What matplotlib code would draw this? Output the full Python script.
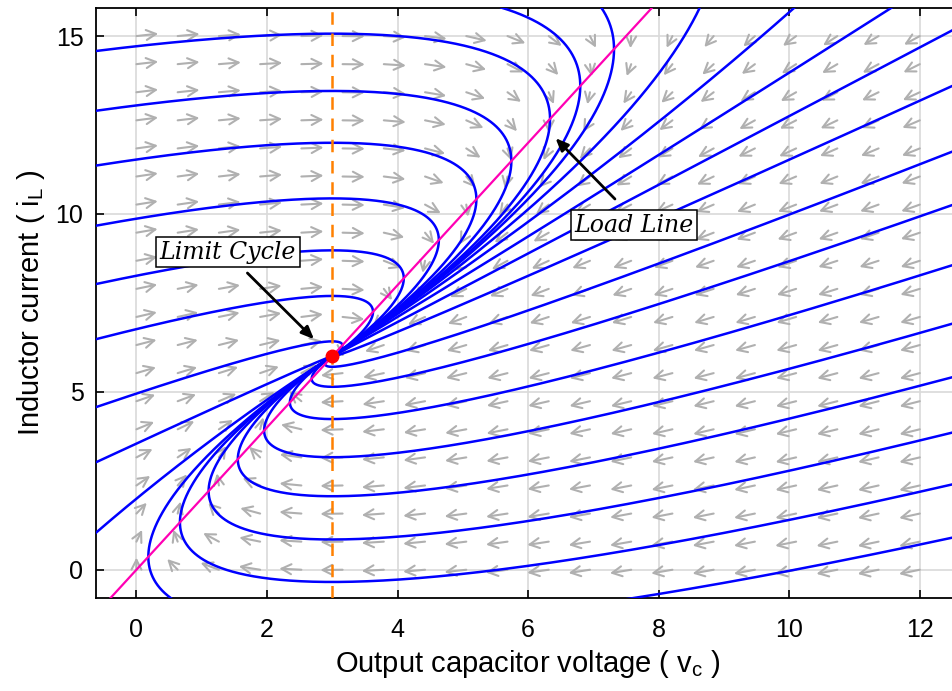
import numpy as np
import matplotlib
matplotlib.use('Agg')
import matplotlib.pyplot as plt

plt.rcParams.update({
    'font.family': ['Liberation Sans', 'DejaVu Sans'],
    'font.size': 17,
    'mathtext.fontset': 'custom',
    'mathtext.rm': 'Liberation Sans',
    'mathtext.it': 'Liberation Sans',
})

# Converter model: C dv/dt = i - v/R ,  L di/dt = Vin - v
V_IN = 3.0
R_LOAD = 0.5
L_IND = 1.0
C_OUT = 1.0

# Start points of the drawn trajectories (read where they enter the axes)
left_v0 = -0.62
left_i0 = [14.58, 12.9, 11.36, 9.67, 8.03, 6.48, 4.57, 3.02, 1.04]
right_v0 = 12.62
right_i0 = [15.28, 13.7, 11.84, 10.33, 8.63, 6.98, 5.47, 3.91, 2.45, 0.95]
top_i0 = 15.8
top_v0 = [5.59, 7.12, 8.63, 10.08, 11.57]
bottom_i0 = -0.8
bottom_v0 = [0.53]

# Direction-field sample grid
grid_v = np.linspace(0, 12, 20)
grid_i = np.linspace(0, 15, 20)

xticks = [0, 2, 4, 6, 8, 10, 12]
yticks = [0, 5, 10, 15]


def field(v, i):
    return (i - v / R_LOAD) / C_OUT, (V_IN - v) / L_IND


def trajectory(v, i, dt=0.002, n_max=15000):
    v_eq, i_eq = V_IN, V_IN / R_LOAD
    vs, iis = [v], [i]
    for _ in range(n_max):
        a1, b1 = field(v, i)
        a2, b2 = field(v + dt / 2 * a1, i + dt / 2 * b1)
        a3, b3 = field(v + dt / 2 * a2, i + dt / 2 * b2)
        a4, b4 = field(v + dt * a3, i + dt * b3)
        v += dt / 6 * (a1 + 2 * a2 + 2 * a3 + a4)
        i += dt / 6 * (b1 + 2 * b2 + 2 * b3 + b4)
        vs.append(v)
        iis.append(i)
        if abs(v - v_eq) < 0.005 and abs(i - i_eq) < 0.01:
            break
        if v < -0.8 or v > 13.0 or i < -1.0 or i > 16.2:
            break
    return vs, iis


starts = ([(left_v0, y) for y in left_i0] + [(right_v0, y) for y in right_i0]
          + [(x, top_i0) for x in top_v0] + [(x, bottom_i0) for x in bottom_v0])

fig = plt.figure(figsize=(9.52, 6.91), dpi=100)
ax = fig.add_axes([0.1008, 0.1343, 0.9079, 0.8547])

# direction field (unit arrows in data units)
VV, II = np.meshgrid(grid_v, grid_i)
DV, DI = field(VV, II)
norm = np.hypot(DV, DI)
arrow_len = 0.34
for x, y, du, dw, n in zip(VV.ravel(), II.ravel(), DV.ravel(), DI.ravel(), norm.ravel()):
    ax.annotate('', xy=(x + arrow_len * du / n, y + arrow_len * dw / n), xytext=(x, y),
                arrowprops=dict(arrowstyle='->,head_length=0.7,head_width=0.36',
                                color='#b0b0b0', lw=1.5, shrinkA=0, shrinkB=0,
                                mutation_scale=10), zorder=2)

# trajectories
for v0, i0 in starts:
    vs, iis = trajectory(v0, i0)
    ax.plot(vs, iis, color='#0000ff', lw=1.8, zorder=3)

# load line i = v / R
load_v = np.array([-1.0, 9.0])
ax.plot(load_v, load_v / R_LOAD, color='#ff00b4', lw=1.6, zorder=4)

# Vin line and operating point
ax.axvline(V_IN, color='#ff8000', lw=1.8, ls=(0, (5, 3.5)), zorder=4)
ax.plot([V_IN], [V_IN / R_LOAD], 'o', color='#ff0000', ms=9, zorder=6)

# annotations
txt_kw = dict(ha='center', va='center', fontsize=17, fontstyle='italic',
              family='DejaVu Serif', zorder=7,
              bbox=dict(boxstyle='square,pad=0.15', fc='white', ec='black', lw=1.1))
arr_kw = dict(arrowstyle='-|>,head_length=0.75,head_width=0.32', color='black',
              lw=2.0, shrinkA=0, shrinkB=0, mutation_scale=10)
ax.text(1.40, 8.92, 'Limit Cycle', **txt_kw)
ax.annotate('', xy=(2.72, 6.48), xytext=(1.70, 8.34), arrowprops=arr_kw, zorder=7)
ax.text(7.62, 9.68, 'Load Line', **txt_kw)
ax.annotate('', xy=(6.42, 12.13), xytext=(7.33, 10.42), arrowprops=arr_kw, zorder=7)

ax.set_xlim(-0.62, 12.62)
ax.set_ylim(-0.8, 15.8)
ax.set_xticks(xticks)
ax.set_yticks(yticks)
ax.grid(True, color='#d9d9d9', lw=1.2, zorder=0)
ax.set_axisbelow(True)
ax.tick_params(direction='in', top=True, right=True, length=6, width=1.2, labelsize=18)
ax.tick_params(axis='x', pad=14)
ax.tick_params(axis='y', pad=9)
for s in ax.spines.values():
    s.set_linewidth(1.3)

ax.set_xlabel(r'Output capacitor voltage ( $\mathregular{v_c}$ )', fontsize=21)
ax.set_ylabel(r'Inductor current ( $\mathregular{i_L}$ )', fontsize=21)
ax.xaxis.set_label_coords(0.5, -0.085)
ax.yaxis.set_label_coords(-0.057, 0.5)

fig.savefig('out.png', dpi=100)
